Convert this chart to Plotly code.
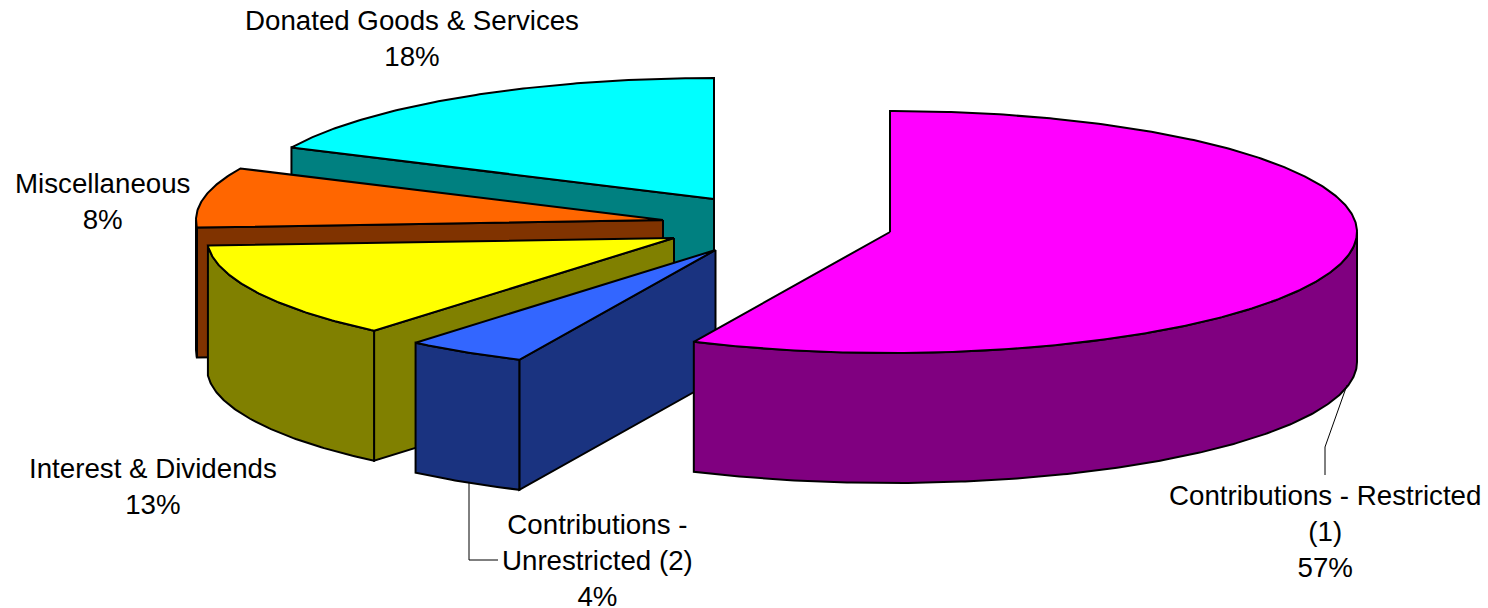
import math
import plotly.graph_objects as go

categories = ["Contributions - Restricted<br>(1)", "Contributions -<br>Unrestricted (2)",
              "Interest & Dividends", "Miscellaneous", "Donated Goods & Services"]
values = [56.9, 4.2, 12.9, 8.0, 18.0]   # unrounded shares, as read from the slice edges
labels = [57, 4, 13, 8, 18]             # rounded percentages printed on the chart
top_colors = ["#FF00FF", "#3366FF", "#FFFF00", "#FF6600", "#00FFFF"]
side_colors = ["#800080", "#1A3380", "#808000", "#803300", "#008080"]

# layout of the exploded 3-D pie, in page pixels
centers = [(890, 232), (715.5, 250), (674, 238), (663, 220), (714, 199)]
RX, RY, DEPTH = 467, 121, 130
label_pos = [(1325, 531), (597, 560), (153, 486), (102, 201), (412, 38)]
FONT = 27.7


def rim(c, a0, a1):
    n = max(2, int(abs(a1 - a0) * 2))
    xs, ys = [], []
    for i in range(n + 1):
        t = math.radians(a0 + (a1 - a0) * i / n)
        xs.append(c[0] + RX * math.sin(t))
        ys.append(c[1] - RY * math.cos(t))
    return xs, ys


def poly(fig, xs, ys, color):
    fig.add_trace(go.Scatter(x=xs + xs[:1], y=ys + ys[:1], mode="lines", fill="toself",
                             fillcolor=color, line=dict(color="black", width=2),
                             hoverinfo="skip", showlegend=False))


bounds = []
a = 0.0
for v in values:
    bounds.append((a, a + v * 3.6))
    a += v * 3.6

fig = go.Figure()
for i in range(len(values) - 1, -1, -1):
    c = centers[i]
    a0, a1 = bounds[i]
    # cut face at the start of the slice when it faces the viewer
    if 180 < a0 < 360:
        ex, ey = rim(c, a0, a0)
        ex, ey = ex[0], ey[0]
        poly(fig, [c[0], ex, ex, c[0]], [c[1], ey, ey + DEPTH, c[1] + DEPTH], side_colors[i])
    # outer wall: the front half of the rim only
    f0, f1 = max(a0, 90), min(a1, 270)
    if f1 > f0:
        xs, ys = rim(c, f0, f1)
        poly(fig, xs + xs[::-1], ys + [y + DEPTH for y in ys[::-1]], side_colors[i])
    xs, ys = rim(c, a0, a1)
    poly(fig, [c[0]] + xs, [c[1]] + ys, top_colors[i])

leaders = [([1347, 1325, 1325], [385, 447, 475]), ([469, 469, 498], [482, 560, 560])]
for lx, ly in leaders:
    fig.add_trace(go.Scatter(x=lx, y=ly, mode="lines", line=dict(color="black", width=1),
                             hoverinfo="skip", showlegend=False))

for name, v, (x, y) in zip(categories, labels, label_pos):
    fig.add_annotation(x=x, y=y, text=f"{name}<br>{v}%", showarrow=False, xanchor="center",
                       yanchor="middle", align="center",
                       font=dict(family="Liberation Sans", size=FONT, color="black"))

fig.update_layout(width=1488, height=608, margin=dict(l=0, r=0, t=0, b=0),
                  paper_bgcolor="white", plot_bgcolor="white",
                  xaxis=dict(range=[0, 1488], visible=False),
                  yaxis=dict(range=[608, 0], visible=False))
fig.write_html("out.html", config={"displayModeBar": False},
               post_script="document.body.style.margin='0';document.body.style.overflow='hidden';")
